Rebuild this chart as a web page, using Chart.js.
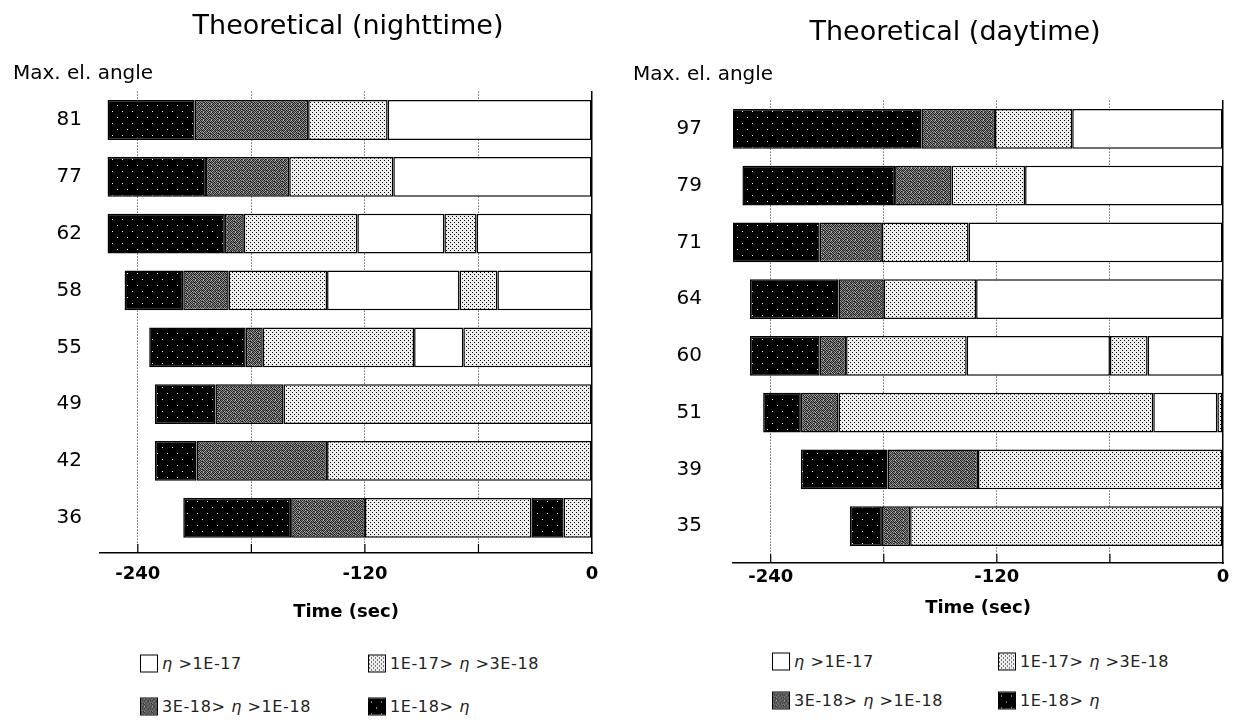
<!DOCTYPE html>
<html>
<head>
<meta charset="utf-8">
<script src="https://cdn.jsdelivr.net/npm/chart.js@4.4.1/dist/chart.umd.min.js"></script>
<style>
  body { margin: 0; background: #fff; width: 1233px; height: 723px; overflow: hidden; position: relative; font-family: 'DejaVu Sans', sans-serif; }
  canvas { position: absolute; top: 0; }
  .legend { position: absolute; font-size: 16px; color: #222; letter-spacing: 0.6px; }
  .legend .item { position: absolute; display: flex; align-items: center; white-space: nowrap; transform: translateY(-50%); }
  .legend .box { width: 16px; height: 16px; border: 1px solid #000; margin-right: 4px; background-repeat: repeat; }
</style>
</head>
<body>
<canvas id="night" width="683" height="628" style="left:0"></canvas>
<canvas id="day" width="657" height="623" style="left:620px"></canvas>
<div id="nightLegend" class="legend"></div>
<div id="dayLegend" class="legend"></div>
<script>
// density levels, left to right in the legend
const levelKeys = ['white', 'light', 'dark', 'black'];
const levelNames = ['η >1E-17', '1E-17> η >3E-18', '3E-18> η >1E-18', '1E-18> η'];

// x axis (seconds)
const timeMin = -260;
const timeMax = 0;
const timeTicks = [-240, -180, -120, -60, 0];
const timeLabels = ['-240', '', '-120', '', '0'];

// nighttime: segment edges per pass and the level of each segment
const nightAngles = ['81', '77', '62', '58', '55', '49', '42', '36'];
const nightEdges = [
  [-256, -210, -150, -108, 0],
  [-256, -204, -160, -105, 0],
  [-256, -194, -184, -124, -78, -61, 0],
  [-247, -216, -192, -140, -70, -50, 0],
  [-234, -183, -174, -94, -68, 0],
  [-231, -199, -163, 0],
  [-231, -209, -140, 0],
  [-216, -159, -120, -32, -15, 0]
];
const nightLevels = [
  ['black', 'dark', 'light', 'white'],
  ['black', 'dark', 'light', 'white'],
  ['black', 'dark', 'light', 'white', 'light', 'white'],
  ['black', 'dark', 'light', 'white', 'light', 'white'],
  ['black', 'dark', 'light', 'white', 'light'],
  ['black', 'dark', 'light'],
  ['black', 'dark', 'light'],
  ['black', 'dark', 'light', 'black', 'light']
];

// daytime
const dayAngles = ['97', '79', '71', '64', '60', '51', '39', '35'];
const dayEdges = [
  [-261, -160, -121, -80, 0],
  [-255, -174, -144, -105, 0],
  [-261, -214, -181, -135, 0],
  [-251, -204, -180, -131, 0],
  [-251, -214, -200, -136, -60, -40, 0],
  [-244, -224, -204, -37, -3, 0],
  [-224, -178, -130, 0],
  [-198, -181, -166, 0]
];
const dayLevels = [
  ['black', 'dark', 'light', 'white'],
  ['black', 'dark', 'light', 'white'],
  ['black', 'dark', 'light', 'white'],
  ['black', 'dark', 'light', 'white'],
  ['black', 'dark', 'light', 'white', 'light', 'white'],
  ['black', 'dark', 'light', 'white', 'light'],
  ['black', 'dark', 'light'],
  ['black', 'dark', 'light']
];

const FONT = "'DejaVu Sans', sans-serif";

// fill patterns (small tiles)
function tile(w, h, draw) {
  const c = document.createElement('canvas');
  c.width = w; c.height = h;
  draw(c.getContext('2d'));
  return c;
}
const darkGrid = [
  [0x18, 0x90, 0x40, 0xb0, 0x20, 0x70, 0x38, 0xa8],
  [0x88, 0x10, 0xa0, 0x30, 0x80, 0x18, 0x98, 0x28],
  [0x40, 0x78, 0x18, 0x68, 0x30, 0xb8, 0x20, 0x60],
  [0xb0, 0x28, 0x90, 0x20, 0xa0, 0x38, 0x78, 0x10],
  [0x20, 0xa0, 0x48, 0xb8, 0x18, 0x80, 0x30, 0x98],
  [0x70, 0x30, 0x18, 0x58, 0x90, 0x20, 0xa8, 0x40],
  [0x28, 0xb0, 0x78, 0x20, 0x38, 0x98, 0x18, 0x80],
  [0x98, 0x18, 0x38, 0xa8, 0x60, 0x28, 0x88, 0x30]
];
const tiles = {
  white: tile(2, 2, g => { g.fillStyle = '#fff'; g.fillRect(0, 0, 2, 2); }),
  light: tile(4, 4, g => {
    g.fillStyle = '#eeeeee'; g.fillRect(0, 0, 4, 4);
    g.fillStyle = '#000'; g.fillRect(0, 0, 1, 1); g.fillRect(2, 2, 1, 1);
  }),
  dark: tile(8, 8, g => {
    darkGrid.forEach((row, y) => row.forEach((v, x) => {
      g.fillStyle = `rgb(${v},${v},${v})`; g.fillRect(x, y, 1, 1);
    }));
  }),
  black: tile(10, 12, g => {
    g.fillStyle = '#000'; g.fillRect(0, 0, 10, 12);
    g.fillStyle = '#fff'; g.fillRect(2, 3, 1, 1); g.fillRect(7, 9, 1, 1);
  })
};
const ctx0 = document.createElement('canvas').getContext('2d');
const fills = {};
levelKeys.forEach(k => { fills[k] = ctx0.createPattern(tiles[k], 'repeat'); });

function buildDatasets(edges, levels) {
  const sets = {};
  edges.forEach((row, i) => {
    const seen = {};
    levels[i].forEach((lvl, j) => {
      const n = seen[lvl] = (seen[lvl] || 0) + 1;
      const key = lvl + n;
      if (!sets[key]) sets[key] = { level: lvl, data: edges.map(() => null) };
      sets[key].data[i] = [row[j], row[j + 1]];
    });
  });
  return Object.keys(sets).map(key => ({
    label: levelNames[levelKeys.indexOf(sets[key].level)],
    data: sets[key].data,
    backgroundColor: fills[sets[key].level],
    borderColor: '#000',
    borderWidth: 1.5,
    borderSkipped: false,
    grouped: false,
    barPercentage: 0.7,
    categoryPercentage: 1
  }));
}

// short solid tick marks rising from the time axis
const tickMarks = {
  id: 'tickMarks',
  afterDatasetsDraw(chart) {
    const { ctx, chartArea, scales: { x } } = chart;
    ctx.save();
    ctx.strokeStyle = '#000';
    ctx.lineWidth = 1.2;
    x.ticks.forEach(t => {
      if (t.value === timeMax) return;
      const px = x.getPixelForValue(t.value);
      ctx.beginPath();
      ctx.moveTo(px, chartArea.bottom);
      ctx.lineTo(px, chartArea.bottom - 9);
      ctx.stroke();
    });
    ctx.restore();
  }
};

function makeChart(id, title, angles, edges, levels, g) {
  return new Chart(document.getElementById(id), {
    type: 'bar',
    data: { labels: angles, datasets: buildDatasets(edges, levels) },
    options: {
      indexAxis: 'y',
      responsive: false,
      animation: false,
      layout: { padding: { left: g.padLeft, right: 0, top: 0, bottom: 0 } },
      scales: {
        x: {
          type: 'linear', min: timeMin, max: timeMax,
          afterBuildTicks: s => { s.ticks = timeTicks.map(v => ({ value: v })); },
          afterFit: s => { s.height = g.xAxisH; },
          ticks: {
            callback: (v, i) => timeLabels[i],
            autoSkip: false, maxRotation: 0,
            font: { family: FONT, size: 18, weight: 'bold' }, color: '#000',
            padding: g.xTickPad
          },
          grid: {
            color: c => (c.tick && c.tick.value === timeMax) ? 'rgba(0,0,0,0)' : '#222',
            lineWidth: 1, drawTicks: false
          },
          border: { display: true, color: '#000', width: 1.5, dash: [1, 2] },
          title: {
            display: true, text: 'Time (sec)', color: '#000',
            font: { family: FONT, size: 18, weight: 'bold' },
            padding: { top: 0, bottom: g.xTitlePad }
          }
        },
        y: {
          type: 'category', offset: true,
          afterFit: s => { s.width = g.yAxisW; },
          afterBuildTicks: s => { s._valueRange += g.extraRows; },
          grid: { display: false, drawTicks: false },
          border: { display: false },
          ticks: { font: { family: FONT, size: 20 }, color: '#000', padding: g.yTickPad }
        },
        y2: {
          type: 'linear', position: 'right',
          afterFit: s => { s.width = g.rightW; },
          grid: { display: false, drawTicks: false },
          ticks: { display: false },
          border: { display: true, color: '#000', width: 1.5 }
        }
      },
      plugins: {
        legend: { display: false },
        tooltip: { enabled: false },
        title: {
          display: true, text: title, color: '#000',
          font: { family: FONT, size: 27, weight: 'normal' },
          padding: { top: g.titleTop, bottom: 0 }
        },
        subtitle: {
          display: true, text: 'Max. el. angle', align: 'start', color: '#000',
          font: { family: FONT, size: 20, weight: 'normal' },
          padding: { top: g.subTop, bottom: g.subBottom }
        }
      }
    },
    plugins: [tickMarks]
  });
}

makeChart('night', 'Theoretical (nighttime)', nightAngles, nightEdges, nightLevels, {
  padLeft: 13, yAxisW: 87, yTickPad: 18, rightW: 91, extraRows: 0.12,
  titleTop: 10.5, subTop: 18.4, subBottom: 6.3,
  xAxisH: 75, xTickPad: 11, xTitlePad: 5
});
makeChart('day', 'Theoretical (daytime)', dayAngles, dayEdges, dayLevels, {
  padLeft: 13, yAxisW: 100, yTickPad: 31, rightW: 54, extraRows: 0.15,
  titleTop: 17, subTop: 13.5, subBottom: 13.7,
  xAxisH: 60, xTickPad: 4, xTitlePad: 3.6
});

// html legends, 2 x 2
function buildLegend(id, cols, rows) {
  const el = document.getElementById(id);
  levelKeys.forEach((k, i) => {
    const item = document.createElement('div');
    item.className = 'item';
    item.style.left = cols[i % 2] + 'px';
    item.style.top = rows[Math.floor(i / 2)] + 'px';
    const box = document.createElement('span');
    box.className = 'box';
    box.style.backgroundImage = `url(${tiles[k].toDataURL()})`;
    const txt = document.createElement('span');
    txt.innerHTML = levelNames[i].replace('η', '<i>η</i>');
    item.appendChild(box);
    item.appendChild(txt);
    el.appendChild(item);
  });
}
buildLegend('nightLegend', [140, 368], [663, 706]);
buildLegend('dayLegend', [772, 998], [661, 700]);
</script>
</body>
</html>
